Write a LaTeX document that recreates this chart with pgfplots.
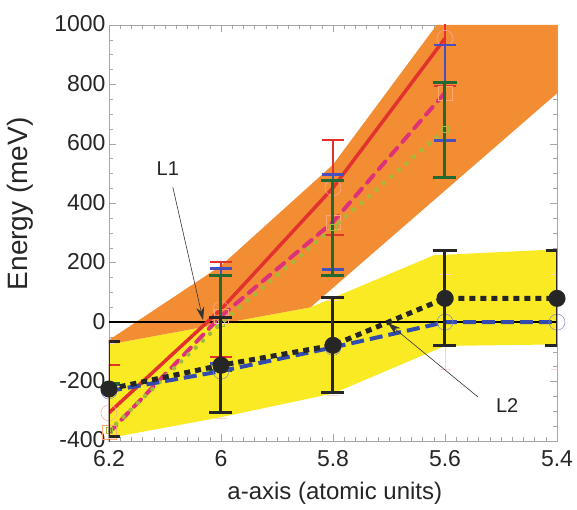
\documentclass[border=0pt]{standalone}
\usepackage{fontspec}
\setmainfont{Liberation Sans}
\usepackage{pgfplots}
\usepackage{pgfplotstable}
\pgfplotsset{compat=1.18}
\usetikzlibrary{arrows.meta}
\definecolor{orangeband}{RGB}{243,141,52}
\definecolor{yellowband}{RGB}{250,234,35}
\definecolor{redline}{RGB}{226,50,45}
\definecolor{magline}{RGB}{222,50,120}
\definecolor{oliveline}{RGB}{165,185,60}
\definecolor{blueline}{RGB}{50,75,175}
\definecolor{bluebar}{RGB}{70,80,190}
\definecolor{greenbar}{RGB}{35,105,50}

\pgfplotstableread{
x y e
6.2 -305 160
6.0 43 160
5.8 452 160
5.6 955 160
}\redtab
\pgfplotstableread{
x y e
6.2 -372 160
6.0 20 160
5.8 337 160
5.6 772 160
}\magtab
\pgfplotstableread{
x y e
6.2 -365 160
6.0 -4 160
5.8 318 160
5.6 648 160
}\olivetab
\pgfplotstableread{
x y e
6.2 -232 160
6.0 -165 160
5.8 -85 160
5.6 0 160
5.4 0 160
}\bluetab
\pgfplotstableread{
x y e
6.2 -225 160
6.0 -145 160
5.8 -78 160
5.6 80 160
5.4 80 160
}\blacktab

\begin{document}
\begin{tikzpicture}
\begin{axis}[
  at={(0,0)}, anchor=south west,
  scale only axis, width=448pt, height=416pt,
  x dir=reverse, xmin=5.4, xmax=6.2, ymin=-400, ymax=1000,
  xtick={5.4,5.6,5.8,6,6.2}, ytick={-400,-200,...,1000},
  minor x tick num=9, minor y tick num=3,
  tick align=inside,
  major tick length=7pt, minor tick length=4pt,
  axis line style={gray!70},
  every tick/.style={gray!70, line width=0.5pt},
  /pgf/number format/assume math mode=true,
  /pgf/number format/set thousands separator={},
  tick label style={font=\fontsize{23}{27}\selectfont, text=black!85},
  xticklabel style={/pgf/number format/.cd, fixed, precision=1, /tikz/.cd, yshift=-6pt},
  yticklabel style={yshift=1pt},
  xlabel={a-axis (atomic units)}, ylabel={Energy (meV)},
  xlabel style={font=\fontsize{24}{28}\selectfont, text=black!85, at={(axis description cs:0.504,-0.125)}, anchor=center},
  ylabel style={font=\fontsize{28}{32}\selectfont, text=black!85, at={(axis description cs:-0.198,0.57)}, anchor=center},
  clip mode=individual,
]
% bands
\addplot[draw=none, fill=yellowband] coordinates {
  (6.2,-75) (5.84,50) (5.62,225) (5.4,245) (5.4,-75) (5.6,-80) (5.8,-240) (6.0,-320) (6.2,-390)} -- cycle;
\addplot[draw=none, fill=orangeband] coordinates {
  (6.2,-60) (6.0,190) (5.8,530) (5.615,1000) (5.4,1000) (5.4,770) (5.84,50) (6.2,-75)} -- cycle;
% zero line
\addplot[black, line width=2pt] coordinates {(6.2,0) (5.4,0)};
% red series
\addplot[redline, line width=3.5pt, mark=o, mark size=8pt,
  mark options={draw=red!35, line width=0.5pt, solid},
  error bars/.cd, y dir=both, y explicit,
  error bar style={redline, line width=2pt},
  error mark options={rotate=90, mark size=11pt, line width=2pt, redline}]
  table[x=x, y=y, y error=e]{\redtab};
% magenta dashed, blue bars
\addplot[magline, line width=4pt, dash pattern=on 10pt off 8pt, line cap=round,
  mark=square, mark size=7pt,
  mark options={draw=pink!60!orange, line width=0.4pt, solid},
  error bars/.cd, y dir=both, y explicit,
  error bar style={bluebar, line width=2pt, solid},
  error mark options={rotate=90, mark size=11pt, line width=2.5pt, bluebar}]
  table[x=x, y=y, y error=e]{\magtab};
% olive dotted, green bars
\addplot[oliveline, line width=4.5pt, dash pattern=on 0pt off 10pt, line cap=round,
  mark=square, mark size=3pt,
  mark options={draw=oliveline, line width=0.6pt, solid},
  error bars/.cd, y dir=both, y explicit,
  error bar style={greenbar, line width=3pt, solid},
  error mark options={rotate=90, mark size=11.5pt, line width=3pt, greenbar}]
  table[x=x, y=y, y error=e]{\olivetab};
% blue dashed
\addplot[blueline, line width=4pt, dash pattern=on 13pt off 6pt,
  mark=o, mark size=8pt,
  mark options={draw=blue!40!gray!70, line width=0.5pt, solid},
  error bars/.cd, y dir=both, y explicit,
  error bar style={pink!70, line width=0.6pt, solid},
  error mark options={rotate=90, mark size=6pt, line width=0.6pt, pink!70}]
  table[x=x, y=y, y error=e]{\bluetab};
% black dotted
\addplot[black!85, line width=5pt, dash pattern=on 6pt off 5pt,
  mark=*, mark size=6pt, mark options={solid, fill=black!85},
  error bars/.cd, y dir=both, y explicit,
  error bar style={black!85, line width=3pt, solid},
  error mark options={rotate=90, mark size=11.5pt, line width=3pt, black!85}]
  table[x=x, y=y, y error=e]{\blacktab};
% annotations
\node[font=\fontsize{20}{24}\selectfont, text=black!85] at (axis cs:6.095,518) {L1};
\draw[black!80, line width=0.6pt, -{Stealth[length=13pt,width=8pt]}] (axis cs:6.086,454) -- (axis cs:6.032,7);
\node[font=\fontsize{20}{24}\selectfont, text=black!85] at (axis cs:5.489,-279) {L2};
\draw[black!80, line width=0.6pt, -{Stealth[length=13pt,width=8pt]}] (axis cs:5.541,-252) -- (axis cs:5.702,-3);
\end{axis}
\pgfresetboundingbox
\path[use as bounding box] (-109pt,-68pt) rectangle (468pt,441pt);
\end{tikzpicture}
\end{document}
